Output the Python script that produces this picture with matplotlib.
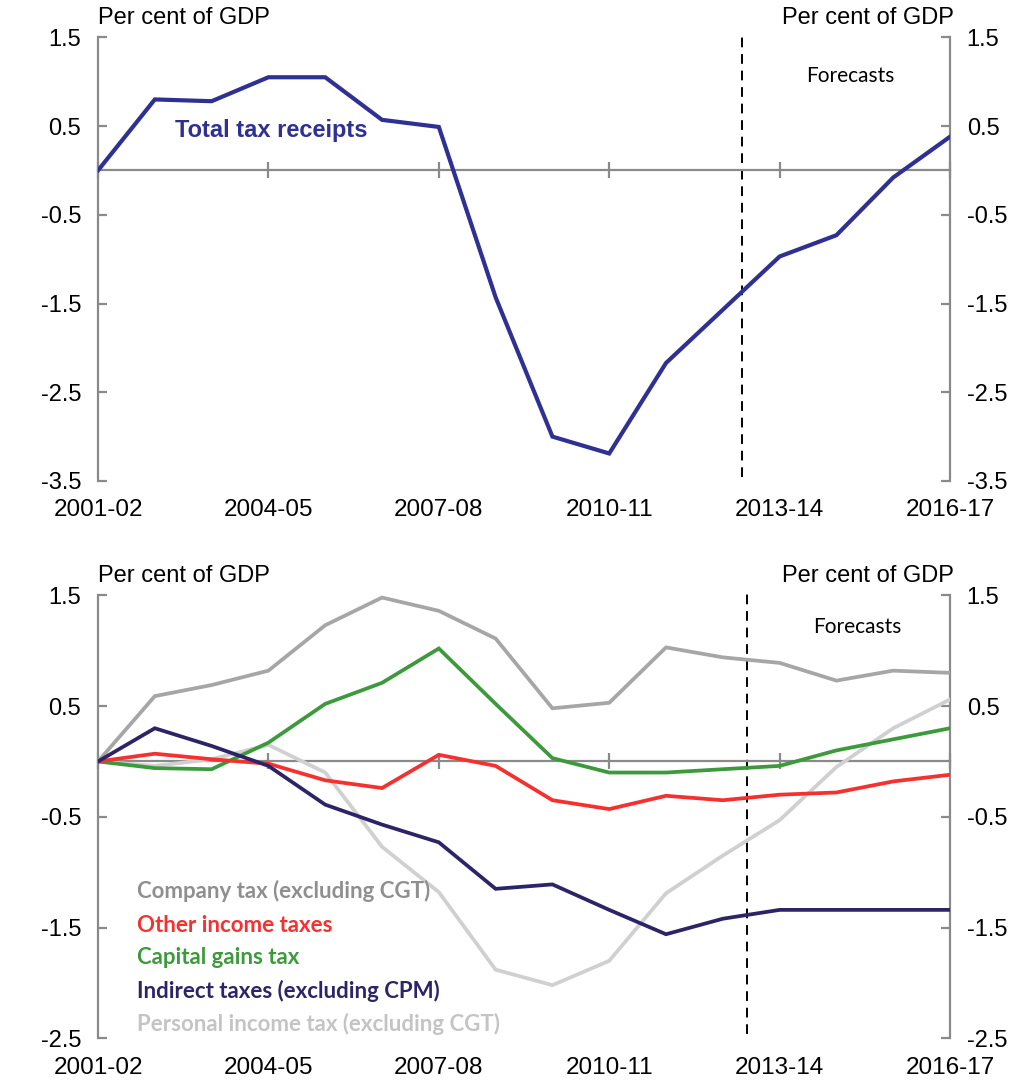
import matplotlib
matplotlib.use("Agg")
import matplotlib.pyplot as plt

plt.rcParams["font.family"] = ["Liberation Sans", "DejaVu Sans"]

# =========================
# Data (per cent of GDP, change since 2001-02)
# =========================
years = ["2001-02", "2002-03", "2003-04", "2004-05", "2005-06", "2006-07",
         "2007-08", "2008-09", "2009-10", "2010-11", "2011-12", "2012-13",
         "2013-14", "2014-15", "2015-16", "2016-17"]
tick_years = ["2001-02", "2004-05", "2007-08", "2010-11", "2013-14", "2016-17"]

total_tax = [0.00, 0.80, 0.78, 1.05, 1.05, 0.57, 0.49, -1.43, -3.00, -3.19,
             -2.17, -1.57, -0.97, -0.73, -0.08, 0.38]

company_tax = [0.00, 0.59, 0.69, 0.82, 1.23, 1.48, 1.36, 1.11, 0.48, 0.53,
               1.03, 0.94, 0.89, 0.73, 0.82, 0.80]
other_income = [0.00, 0.07, 0.02, -0.02, -0.17, -0.24, 0.06, -0.04, -0.35, -0.43,
                -0.31, -0.35, -0.30, -0.28, -0.18, -0.12]
cgt = [0.00, -0.06, -0.07, 0.17, 0.52, 0.71, 1.02, 0.52, 0.03, -0.10,
       -0.10, -0.07, -0.04, 0.10, 0.20, 0.30]
indirect = [0.00, 0.30, 0.14, -0.04, -0.39, -0.57, -0.73, -1.15, -1.11, -1.34,
            -1.56, -1.42, -1.34, -1.34, -1.34, -1.34]
personal = [0.00, -0.04, 0.02, 0.15, -0.10, -0.77, -1.18, -1.88, -2.02, -1.80,
            -1.19, -0.85, -0.53, -0.05, 0.30, 0.56]

bottom_series = [
    ("Company tax (excluding CGT)", company_tax, "#a6a6a6", "#8f8f8f"),
    ("Other income taxes", other_income, "#f5302e", "#f5302e"),
    ("Capital gains tax", cgt, "#3c9a3c", "#3c9a3c"),
    ("Indirect taxes (excluding CPM)", indirect, "#2b2466", "#2b2466"),
    ("Personal income tax (excluding CGT)", personal, "#d0d0d0", "#c4c4c4"),
]
# plotting order so the dark lines sit on top
draw_order = [4, 0, 2, 1, 3]

AXIS_GREY = "#8a8a8a"
x = list(range(len(years)))
tick_pos = [years.index(t) for t in tick_years]


def style_axes(ax, ylim, yticks, forecast_x, forecast_text_xy):
    ax.set_xlim(0, len(years) - 1)
    ax.set_ylim(*ylim)
    ax.spines["top"].set_visible(False)
    ax.spines["bottom"].set_position(("data", 0))
    for s in ["left", "right", "bottom"]:
        ax.spines[s].set_color(AXIS_GREY)
        ax.spines[s].set_linewidth(1.6)

    ax.set_yticks(yticks)
    ax.set_yticklabels([f"{v:.1f}" for v in yticks])
    ax.tick_params(axis="y", direction="in", length=6.5, width=1.6,
                   color=AXIS_GREY, left=True, right=True,
                   labelleft=True, labelright=True, labelsize=17, pad=12)

    ax.set_xticks(tick_pos)
    ax.tick_params(axis="x", direction="inout", length=11, width=1.6,
                   color=AXIS_GREY, labelbottom=False)
    for p, lab in zip(tick_pos, tick_years):
        ax.annotate(lab, xy=(p, 0), xycoords=("data", "axes fraction"),
                    xytext=(0, -21), textcoords="offset points",
                    ha="center", va="center", fontsize=17.5)

    ax.annotate("Per cent of GDP", xy=(0, 1), xycoords="axes fraction",
                xytext=(0, 14), textcoords="offset points",
                ha="left", va="center", fontsize=17)
    ax.annotate("Per cent of GDP", xy=(1, 1), xycoords="axes fraction",
                xytext=(3, 14), textcoords="offset points",
                ha="right", va="center", fontsize=17)

    ax.axvline(forecast_x, ymin=0.01, ymax=1.01, color="black", lw=1.4,
               ls=(0, (5, 3.5)), clip_on=False, zorder=1)
    ax.text(forecast_text_xy[0], forecast_text_xy[1], "Forecasts",
            family=["Lato", "DejaVu Sans"], fontsize=15,
            ha="center", va="center")


fig = plt.figure(figsize=(10.2, 10.85), dpi=100)

# =========================
# Top panel: total tax receipts
# =========================
ax1 = fig.add_axes([0.0961, 0.5567, 0.8353, 0.4089])
ax1.plot(x, total_tax, color="#2e3192", lw=3.0, solid_joinstyle="miter", zorder=3)
style_axes(ax1, (-3.5, 1.5), [1.5, 0.5, -0.5, -1.5, -2.5, -3.5], 11.33, (13.24, 1.06))
ax1.text(3.05, 0.45, "Total tax receipts", color="#2e3192", fontsize=17,
         fontweight="bold", ha="center", va="center")

# =========================
# Bottom panel: components
# =========================
ax2 = fig.add_axes([0.0961, 0.0430, 0.8353, 0.4083])
for i in draw_order:
    name, vals, line_col, _ = bottom_series[i]
    ax2.plot(x, vals, color=line_col, lw=2.7, solid_joinstyle="miter", zorder=3)
style_axes(ax2, (-2.5, 1.5), [1.5, 0.5, -0.5, -1.5, -2.5], 11.42, (13.37, 1.21))

legend_y = [-1.17, -1.48, -1.77, -2.07, -2.37]
for (name, vals, line_col, text_col), ly in zip(bottom_series, legend_y):
    ax2.text(0.69, ly, name, color=text_col, fontsize=16, fontweight="bold",
             family=["Lato", "DejaVu Sans"], ha="left", va="center", zorder=4)

fig.savefig("out.png", dpi=100)
